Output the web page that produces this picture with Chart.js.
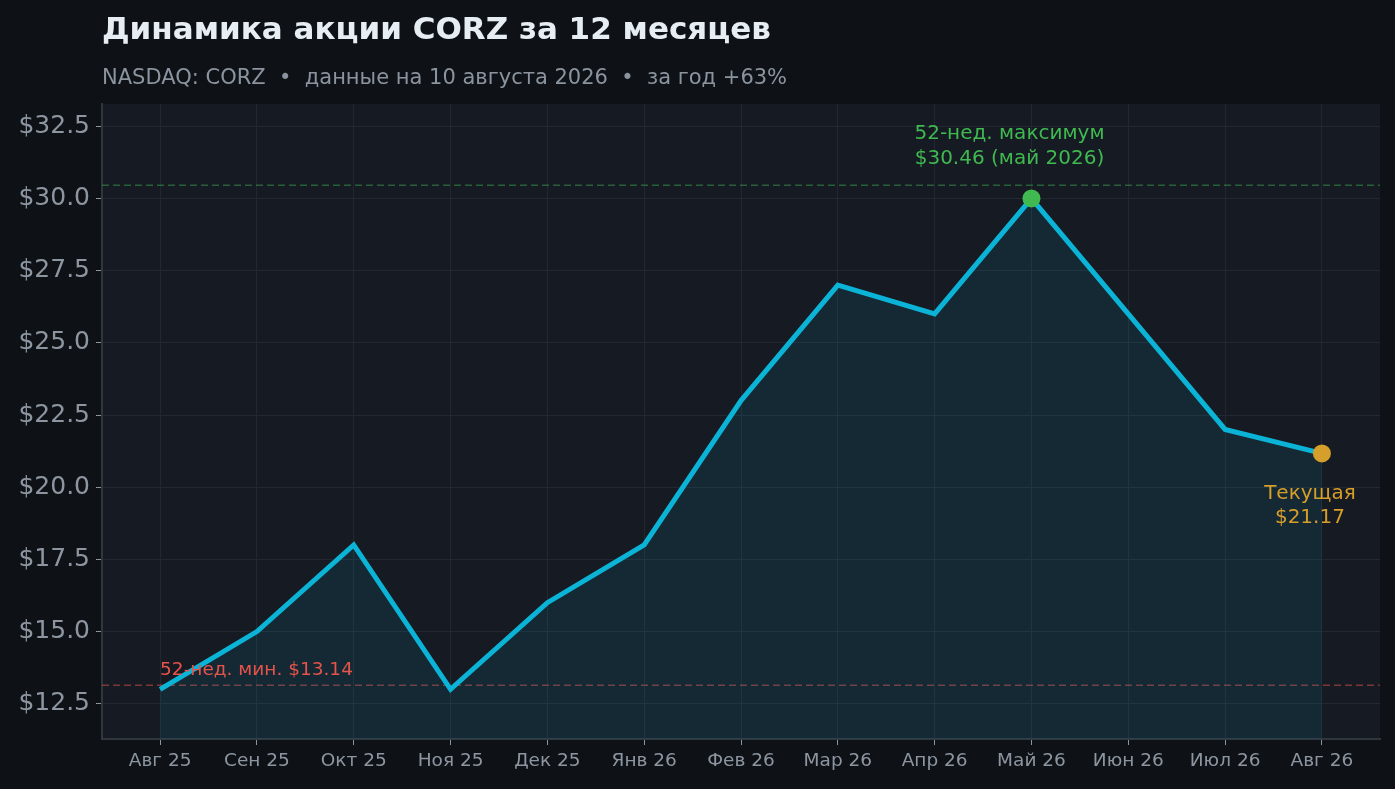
<!DOCTYPE html>
<html lang="ru">
<head>
<meta charset="utf-8">
<title>CORZ</title>
<script src="https://cdn.jsdelivr.net/npm/chart.js@4.4.1/dist/chart.umd.min.js"></script>
<style>
    html, body { margin: 0; padding: 0; background: #0e1217; }
    canvas { display: block; }
</style>
</head>
<body>
<canvas id="chart" width="1395" height="789"></canvas>
<script>
const months = ['Авг 25', 'Сен 25', 'Окт 25', 'Ноя 25', 'Дек 25', 'Янв 26', 'Фев 26',
    'Мар 26', 'Апр 26', 'Май 26', 'Июн 26', 'Июл 26', 'Авг 26'];
const prices = [13.0, 15.0, 18.0, 13.0, 16.0, 18.0, 23.0, 27.0, 26.0, 30.0, 26.0, 22.0, 21.17];
const yTicks = [12.5, 15.0, 17.5, 20.0, 22.5, 25.0, 27.5, 30.0, 32.5];
const high52 = 30.46;
const low52 = 13.14;
const highIndex = 9;
const currentIndex = 12;

const FONT = '"DejaVu Sans", sans-serif';
const LINE_COLOR = '#0bb4d6';
const HIGH_COLOR = '#3fb950';
const LOW_COLOR = '#e5534b';
const CURRENT_COLOR = '#d69e2a';
const TICK_COLOR = '#8d96a0';

const pointRadius = prices.map((_, i) => (i === highIndex || i === currentIndex) ? 9 : 0);
const pointColors = prices.map((_, i) => i === highIndex ? HIGH_COLOR : (i === currentIndex ? CURRENT_COLOR : LINE_COLOR));

// фон области графика, пунктирные уровни и подписи
const decorations = {
    id: 'decorations',
    beforeDraw(chart) {
        const { ctx, chartArea: a } = chart;
        ctx.save();
        ctx.fillStyle = '#161a22';
        ctx.fillRect(a.left, a.top, a.right - a.left, a.bottom - a.top);
        ctx.restore();
    },
    beforeDatasetsDraw(chart) {
        const { ctx, chartArea: a, scales: { y } } = chart;
        ctx.save();
        ctx.setLineDash([7, 4]);
        ctx.lineWidth = 1.5;
        [[high52, 'rgba(63,185,80,0.45)'], [low52, 'rgba(229,83,75,0.5)']].forEach(([v, c]) => {
            const py = y.getPixelForValue(v);
            ctx.strokeStyle = c;
            ctx.beginPath();
            ctx.moveTo(a.left, py);
            ctx.lineTo(a.right, py);
            ctx.stroke();
        });
        ctx.restore();
    },
    afterDatasetsDraw(chart) {
        const { ctx, scales: { x, y } } = chart;
        ctx.save();
        ctx.textBaseline = 'alphabetic';

        ctx.font = '18.5px ' + FONT;
        ctx.fillStyle = LOW_COLOR;
        ctx.textAlign = 'left';
        ctx.fillText('52-нед. мин. $' + low52.toFixed(2), x.getPixelForValue(0), y.getPixelForValue(low52) - 10);

        ctx.font = '20px ' + FONT;
        ctx.textAlign = 'center';
        ctx.fillStyle = HIGH_COLOR;
        const hx = x.getPixelForValue(highIndex) - 22;
        const hy = y.getPixelForValue(prices[highIndex]);
        ctx.fillText('52-нед. максимум', hx, hy - 59);
        ctx.fillText('$' + high52.toFixed(2) + ' (май 2026)', hx, hy - 34);

        ctx.fillStyle = CURRENT_COLOR;
        const cx = x.getPixelForValue(currentIndex) - 12;
        const cy = y.getPixelForValue(prices[currentIndex]);
        ctx.fillText('Текущая', cx, cy + 46);
        ctx.fillText('$' + prices[currentIndex].toFixed(2), cx, cy + 70);
        ctx.restore();
    },
    afterDraw(chart) {
        const { ctx } = chart;
        ctx.save();
        ctx.textAlign = 'left';
        ctx.textBaseline = 'alphabetic';
        ctx.fillStyle = '#e6edf3';
        ctx.font = 'bold 31px ' + FONT;
        ctx.fillText('Динамика акции CORZ за 12 месяцев', 102, 39);
        ctx.fillStyle = '#8b949e';
        ctx.font = '21px ' + FONT;
        ctx.fillText('NASDAQ: CORZ  •  данные на 10 августа 2026  •  за год +63%', 102, 84);
        ctx.restore();
    }
};

new Chart(document.getElementById('chart'), {
    type: 'line',
    data: {
        datasets: [{
            data: prices.map((v, i) => ({ x: i, y: v })),
            borderColor: LINE_COLOR,
            borderWidth: 5,
            backgroundColor: 'rgba(11,180,214,0.10)',
            fill: 'start',
            tension: 0,
            pointRadius: pointRadius,
            pointBackgroundColor: pointColors,
            pointBorderWidth: 0,
        }],
    },
    options: {
        responsive: false,
        animation: false,
        events: [],
        layout: { padding: { top: 104, right: 15, left: 0, bottom: 0 } },
        plugins: {
            legend: { display: false },
            tooltip: { enabled: false },
        },
        scales: {
            x: {
                type: 'linear',
                min: -0.6,
                max: 12.6,
                afterBuildTicks: (s) => { s.ticks = months.map((_, i) => ({ value: i })); },
                afterFit: (s) => { s.height = 50; },
                ticks: {
                    color: TICK_COLOR,
                    font: { family: FONT, size: 18.5 },
                    padding: 5,
                    maxRotation: 0,
                    autoSkip: false,
                    callback: (v) => months[v],
                },
                grid: { color: '#222732', lineWidth: 1, tickLength: 6, tickColor: TICK_COLOR },
                border: { display: true, color: '#30363d', width: 2 },
            },
            y: {
                min: 11.28,
                max: 33.27,
                afterBuildTicks: (s) => { s.ticks = yTicks.map((v) => ({ value: v })); },
                afterFit: (s) => { s.width = 102; },
                ticks: {
                    color: TICK_COLOR,
                    font: { family: FONT, size: 25 },
                    padding: 6,
                    callback: (v) => '$' + v.toFixed(1),
                },
                grid: { color: '#222732', lineWidth: 1, tickLength: 6, tickColor: TICK_COLOR },
                border: { display: true, color: '#30363d', width: 2 },
            },
        },
    },
    plugins: [decorations],
});
</script>
</body>
</html>
